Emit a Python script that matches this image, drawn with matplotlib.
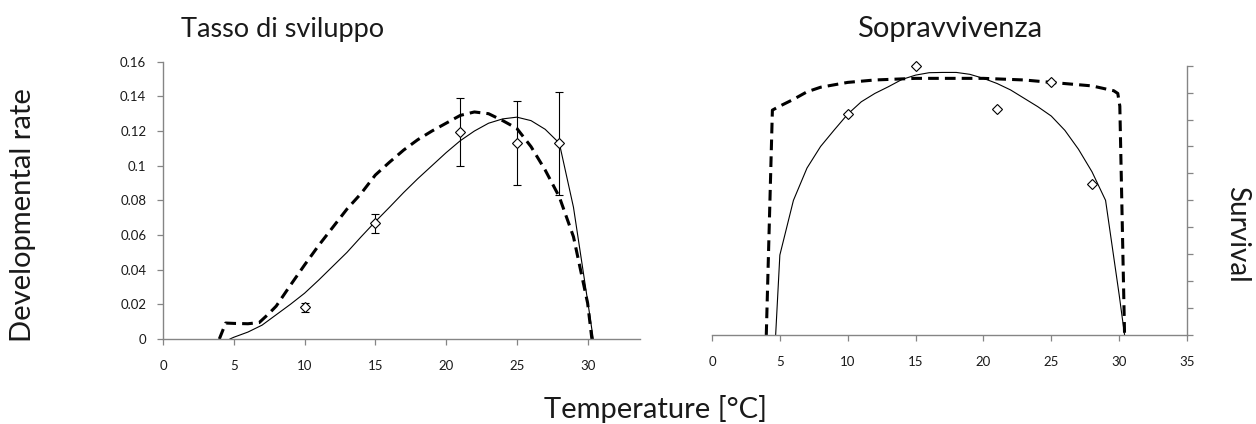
import matplotlib
matplotlib.use("Agg")
import matplotlib.pyplot as plt

plt.rcParams['font.family'] = ['Lato', 'DejaVu Sans']

# ---- Developmental rate (left panel) ----
rate_obs_T = [10, 15, 21, 25, 28]
rate_obs = [0.0183, 0.0667, 0.1196, 0.1133, 0.1129]
rate_err_lo = [0.0025, 0.0057, 0.0196, 0.0244, 0.0298]
rate_err_hi = [0.0025, 0.0054, 0.0193, 0.0242, 0.0298]

rate_fit_T = [4.73, 5, 6, 7, 8, 9, 10, 11, 12, 13, 14, 15, 16, 17, 18, 19, 20,
              21, 22, 23, 24, 25, 26, 27, 28, 29, 30, 30.4]
rate_fit = [0.0, 0.001, 0.004, 0.008, 0.014, 0.020, 0.0264, 0.034, 0.042, 0.050,
            0.059, 0.0677, 0.076, 0.0845, 0.0925, 0.100, 0.1075, 0.1144, 0.120,
            0.1245, 0.127, 0.128, 0.126, 0.121, 0.113, 0.076, 0.022, 0.0]

rate_model_T = [3.98, 4.43, 5, 6, 6.8, 7.5, 8, 9, 10, 11, 12, 13, 14, 15, 16, 17,
                18, 19, 20, 21, 22, 23, 24, 25, 26, 27, 28, 29, 30, 30.3]
rate_model = [0.0, 0.0092, 0.009, 0.0088, 0.0095, 0.0148, 0.019, 0.031, 0.0427,
              0.054, 0.0645, 0.075, 0.084, 0.0946, 0.102, 0.109, 0.115, 0.120,
              0.1245, 0.129, 0.131, 0.130, 0.126, 0.1215, 0.111, 0.0975, 0.082,
              0.059, 0.0207, 0.0]

# ---- Survival (right panel) ----
surv_obs_T = [10, 15, 21, 25, 28]
surv_obs = [0.82, 1.0, 0.838, 0.938, 0.562]

surv_fit_T = [4.69, 5, 6, 7, 8, 9, 10, 11, 12, 13, 14, 15, 16, 17, 18, 19, 20,
              21, 22, 23, 24, 25, 26, 27, 28, 29, 30, 30.4]
surv_fit = [0.0, 0.297, 0.50, 0.62, 0.70, 0.761, 0.82, 0.866, 0.897, 0.922,
            0.949, 0.965, 0.974, 0.975, 0.975, 0.968, 0.953, 0.934, 0.91, 0.879,
            0.848, 0.813, 0.76, 0.69, 0.606, 0.50, 0.15, 0.0]

surv_model_T = [4.0, 4.45, 5, 6, 7, 8, 10, 12, 15, 20, 23, 25, 28, 29.6, 29.9,
                30.05, 30.4]
surv_model = [0.0, 0.835, 0.85, 0.875, 0.903, 0.92, 0.938, 0.947, 0.953, 0.953,
              0.947, 0.938, 0.925, 0.907, 0.897, 0.85, 0.0]

rate_yticks = [0, 0.02, 0.04, 0.06, 0.08, 0.1, 0.12, 0.14, 0.16]
rate_yticklabels = ['0', '0.02', '0.04', '0.06', '0.08', '0.1', '0.12', '0.14', '0.16']

W, H = 1256, 424
fig = plt.figure(figsize=(W / 100, H / 100), dpi=100)

axis_grey = '#858585'
txt = '#1a1a1a'
dash_kw = dict(color='black', lw=2.2, dashes=(3.5, 2.0), solid_capstyle='butt',
               dash_capstyle='butt')
fit_kw = dict(color='black', lw=0.8)
mk_kw = dict(marker='D', ms=5.5, mfc='white', mec='black', mew=0.8, ls='none')

def px_axes(x0, x1, ytop, ybot):
    return fig.add_axes([x0 / W, (H - ybot) / H, (x1 - x0) / W, (ybot - ytop) / H])

# Left panel
ax1 = px_axes(163, 640, 61.7, 339)
ax1.plot(rate_model_T, rate_model, **dash_kw)
ax1.plot(rate_fit_T, rate_fit, **fit_kw)
ax1.errorbar(rate_obs_T, rate_obs, yerr=[rate_err_lo, rate_err_hi], fmt='none',
             ecolor='black', elinewidth=0.8, capsize=3, capthick=0.8)
ax1.plot(rate_obs_T, rate_obs, **mk_kw)
ax1.set_xlim(0, 33.7)
ax1.set_ylim(0, 0.16)
ax1.set_xticks([0, 5, 10, 15, 20, 25, 30])
ax1.set_yticks(rate_yticks)
ax1.set_yticklabels(rate_yticklabels)
for s in ['top', 'right']:
    ax1.spines[s].set_visible(False)
for s in ['left', 'bottom']:
    ax1.spines[s].set_color(axis_grey)
    ax1.spines[s].set_linewidth(1.0)
ax1.tick_params(axis='both', direction='out', length=4, width=0.9, color=axis_grey,
                labelsize=9.5, labelcolor=txt)
ax1.tick_params(axis='x', pad=11)
ax1.tick_params(axis='y', pad=8)

# Right panel
ax2 = px_axes(712, 1187, 65.7, 335)
ax2.plot(surv_model_T, surv_model, **dash_kw)
ax2.plot(surv_fit_T, surv_fit, **fit_kw)
ax2.plot(surv_obs_T, surv_obs, **mk_kw)
ax2.set_xlim(0, 35)
ax2.set_ylim(0, 1.0)
ax2.set_xticks([0, 5, 10, 15, 20, 25, 30, 35])
ax2.set_yticks([i / 10 for i in range(11)])
ax2.yaxis.tick_right()
ax2.tick_params(axis='y', labelright=False, labelleft=False)
for s in ['top', 'left']:
    ax2.spines[s].set_visible(False)
for s in ['right', 'bottom']:
    ax2.spines[s].set_color(axis_grey)
    ax2.spines[s].set_linewidth(1.0)
ax2.tick_params(axis='both', direction='out', length=4, width=0.9, color=axis_grey,
                labelsize=9.5, labelcolor=txt)
ax2.tick_params(axis='x', pad=11)
for a in (ax1, ax2):
    for ln in a.lines:
        ln.set_clip_on(False)

# Titles and axis labels
fig.text(283 / W, 1 - 37 / H, 'Tasso di sviluppo', ha='center', va='baseline',
         fontsize=19.5, color=txt)
fig.text(950 / W, 1 - 37 / H, 'Sopravvivenza', ha='center', va='baseline',
         fontsize=21, color=txt)
fig.text(23 / W, 1 - 215 / H, 'Developmental rate', rotation=90, ha='center',
         va='center', fontsize=21, color=txt)
fig.text(1237 / W, 1 - 234 / H, 'Survival', rotation=270, ha='center',
         va='center', fontsize=20, color=txt)
fig.text(656 / W, 1 - 418 / H, 'Temperature [°C]', ha='center', va='baseline',
         fontsize=21, color=txt)

fig.savefig('out.png', dpi=100)
